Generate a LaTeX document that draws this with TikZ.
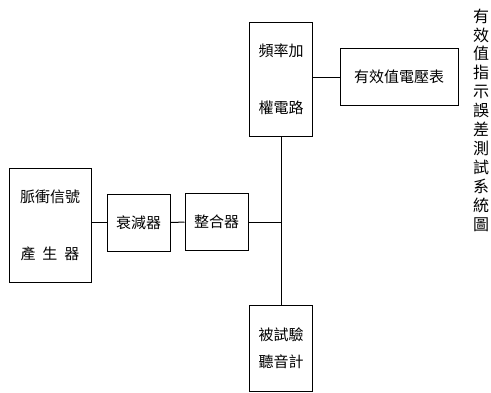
\documentclass[tikz,border=0pt]{standalone}
\usepackage{fontspec}
\newfontfamily\cjk{Noto Sans CJK TC}
\begin{document}
\begin{tikzpicture}[x=1pt,y=-1pt]
\tikzstyle{box}=[draw,line width=1pt,inner sep=0pt,align=center,font=\cjk\fontsize{15}{18}\selectfont];
\tikzstyle{wire}=[line width=1pt];
\useasboundingbox (0,0) rectangle (491,392);
\node [box,minimum width=82pt,minimum height=114pt] (gen) at (50,225) {脈衝信號\\[39pt]產\hspace{7pt}生\hspace{7pt}器};
\node [box,minimum width=63pt,minimum height=57pt] (att) at (138.5,222.5) {衰減器};
\node [box,minimum width=63pt,minimum height=57pt] (match) at (216.5,222) {整合器};
\node [box,minimum width=63pt,minimum height=114pt] (freq) at (281,79) {頻率加\\[39pt]權電路};
\node [box,minimum width=118pt,minimum height=57pt] (volt) at (399,77) {有效值電壓表};
\node [box,minimum width=63pt,minimum height=86pt] (aud) at (281,348) {被試驗\\[9pt]聽音計};
\node [align=center,font=\cjk\fontsize{16}{18.9}\selectfont] (title) at (481,120) {有\\效\\值\\指\\示\\誤\\差\\測\\試\\系\\統\\圖};

\draw [wire] (att.west) -- (att.west -| gen.east);
\draw [wire] (att) -- (match);
\draw [wire] (match.east) -- (match.east -| freq.south);
\draw [wire] (freq) -- (aud);
\draw [wire] (volt.west) -- (volt.west -| freq.east);
\end{tikzpicture}
\end{document}
